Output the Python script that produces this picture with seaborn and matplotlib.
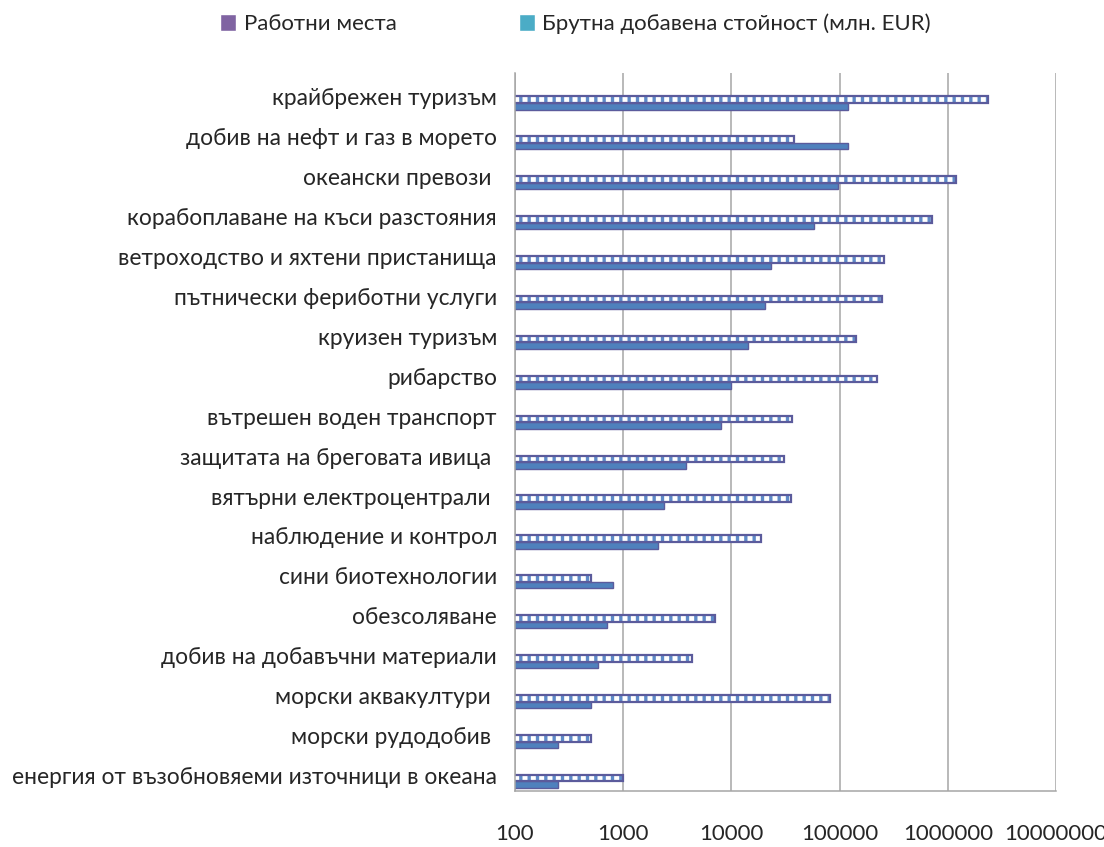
import numpy as np
import pandas as pd
import seaborn as sns
import matplotlib.pyplot as plt
from matplotlib.patches import Patch

categories = [
    'крайбрежен туризъм',
    'добив на нефт и газ в морето',
    'океански превози ',
    'корабоплаване на къси разстояния',
    'ветроходство и яхтени пристанища',
    'пътнически фериботни услуги',
    'круизен туризъм',
    'рибарство',
    'вътрешен воден транспорт',
    'защитата на бреговата ивица ',
    'вятърни електроцентрали ',
    'наблюдение и контрол',
    'сини биотехнологии',
    'обезсоляване',
    'добив на добавъчни материали',
    'морски аквакултури ',
    'морски рудодобив ',
    'енергия от възобновяеми източници в океана',
]
# брутна добавена стойност (млн. EUR)
gva = [2330000, 37600, 1190000, 708000, 257000, 248000, 142000, 223000, 36300,
       30400, 35300, 18600, 500, 7050, 4320, 81500, 500, 1000]
# работни места
jobs = [120000, 120000, 97000, 57500, 23200, 20300, 14200, 10000, 8100,
        3770, 2400, 2080, 810, 710, 590, 500, 250, 250]
series = ['Брутна добавена стойност (млн. EUR)', 'Работни места']
x_ticks = [100, 1000, 10000, 100000, 1000000, 10000000]

df = pd.DataFrame({
    'cat': categories * 2,
    'value': gva + jobs,
    'series': [series[0]] * len(categories) + [series[1]] * len(categories),
})

sns.set_style('white')
plt.rcParams['font.family'] = ['Lato', 'DejaVu Sans']
plt.rcParams['hatch.linewidth'] = 2.4

fig = plt.figure(figsize=(11.04, 8.47), dpi=100)
ax = fig.add_axes([515 / 1104, 1 - 791 / 847, 541 / 1104, 718 / 847])

sns.barplot(data=df, x='value', y='cat', hue='series', hue_order=series,
            order=categories, orient='h', width=0.33, legend=False,
            palette=['white', '#4F81BD'], saturation=1, ax=ax)

n = len(categories)
for i, bar in enumerate(ax.patches[:2 * n]):
    if i < n:
        bar.set_hatch('||')
        bar.set_edgecolor('#5E8AC8')
        bar.set_linewidth(0)
        # darker outline drawn separately
        ax.add_patch(plt.Rectangle(bar.get_xy(), bar.get_width(), bar.get_height(),
                                   fill=False, edgecolor='#5B5B9C', linewidth=1.6))
    else:
        bar.set_edgecolor('#5B5B9C')
        bar.set_linewidth(1.0)

ax.set_xscale('log')
ax.set_xlim(100, 10000000)
ax.set_ylim(n - 1 + 0.24, -0.75)
ax.set_xticks(x_ticks, [str(t) for t in x_ticks])
ax.xaxis.set_minor_locator(plt.NullLocator())
ax.set_yticks(np.arange(n) - 0.15, categories)
ax.tick_params(axis='y', length=0, pad=13, labelsize=16.4)
ax.tick_params(axis='x', length=0, pad=24, labelsize=16)
ax.set_xlabel('')
ax.set_ylabel('')
ax.grid(axis='x', color='#A6A6A6', linewidth=1.1)
ax.set_axisbelow(True)
for side in ['top', 'right']:
    ax.spines[side].set_visible(False)
for side in ['left', 'bottom']:
    ax.spines[side].set_color('#A6A6A6')
    ax.spines[side].set_linewidth(1.1)

handles = [Patch(facecolor='#8064A2', label='Работни места'),
           Patch(facecolor='#4BACC6', label='Брутна добавена стойност (млн. EUR)')]
fig.legend(handles=handles, loc='center left', bbox_to_anchor=(220 / 1104, 1 - 24 / 847),
           ncol=2, frameon=False, fontsize=16, handlelength=0.72, handleheight=0.8,
           handletextpad=0.34, columnspacing=5.5, borderpad=0, borderaxespad=0)

fig.savefig('out.png', dpi=100)
